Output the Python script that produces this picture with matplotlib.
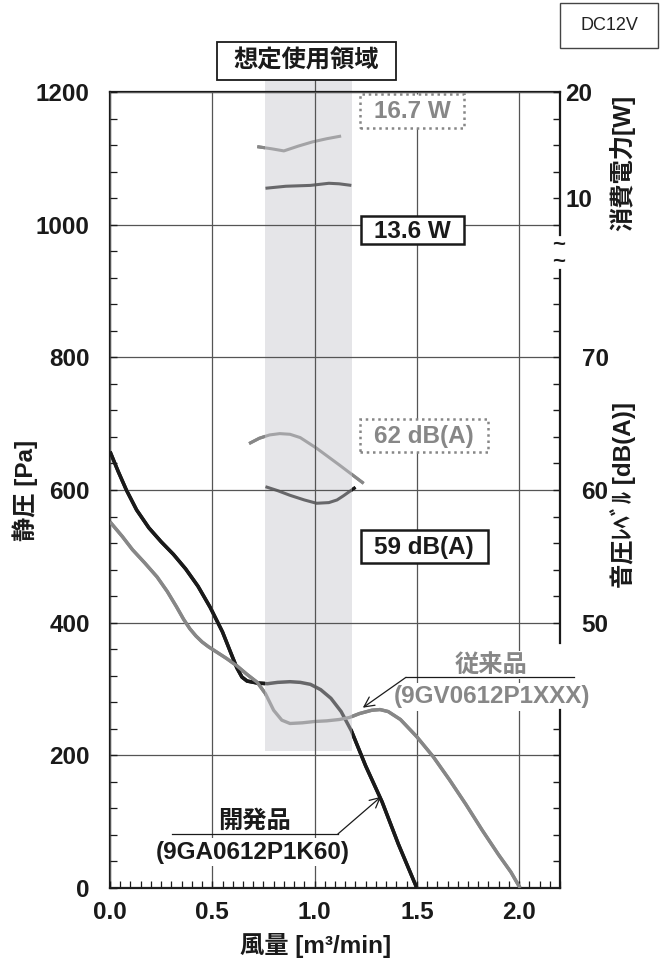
import numpy as np
import matplotlib
matplotlib.use("Agg")
import matplotlib.pyplot as plt
from matplotlib.patches import Rectangle
from matplotlib.path import Path

plt.rcParams['font.family'] = ['Liberation Sans', 'Noto Sans CJK JP']
plt.rcParams['font.weight'] = 'bold'

# ---------------- data ----------------
# P-Q curve, new product (開発品 9GA0612P1K60)
new_flow = [0.00, 0.04, 0.08, 0.13, 0.19, 0.25, 0.31, 0.37, 0.43, 0.49, 0.55, 0.59,
            0.62, 0.645, 0.67, 0.72, 0.77, 0.82, 0.88, 0.93, 0.98, 1.03, 1.08,
            1.13, 1.18, 1.25, 1.33, 1.41, 1.50]
new_pa = [658, 628, 600, 570, 543, 522, 503, 481, 455, 423, 386, 355,
          332, 318, 312, 309, 308, 310, 311, 310, 307, 299, 286,
          266, 237, 184, 130, 66, 0]

# P-Q curve, conventional product (従来品 9GV0612P1XXX)
old_flow = [0.00, 0.06, 0.11, 0.17, 0.23, 0.28, 0.325, 0.36, 0.39, 0.42, 0.45, 0.48,
            0.52, 0.57, 0.62, 0.67, 0.72, 0.76, 0.80, 0.84, 0.88, 0.94, 1.00,
            1.06, 1.12, 1.17, 1.22, 1.28, 1.32, 1.36, 1.42, 1.50, 1.58, 1.66,
            1.74, 1.82, 1.90, 1.96, 2.005]
old_pa = [552, 530, 510, 490, 469, 447, 424, 405, 391, 380, 371, 364,
          356, 346, 335, 322, 310, 293, 268, 253, 248, 249, 251,
          252, 254, 257, 263, 268, 269, 266, 254, 228, 198, 163,
          126, 87, 50, 24, 0]

# power consumption [W]
old_pw_flow = [0.72, 0.79, 0.85, 0.92, 0.99, 1.06, 1.13]
old_pw = [14.85, 14.65, 14.45, 14.9, 15.3, 15.6, 15.85]
new_pw_flow = [0.76, 0.86, 0.98, 1.07, 1.12, 1.18]
new_pw = [10.93, 11.12, 11.2, 11.4, 11.35, 11.2]

# sound pressure level [dB(A)]
old_db_flow = [0.68, 0.73, 0.78, 0.83, 0.88, 0.93, 1.01, 1.12, 1.24]
old_db = [63.5, 63.9, 64.15, 64.25, 64.2, 63.95, 63.15, 61.9, 60.5]
new_db_flow = [0.76, 0.82, 0.88, 0.95, 1.01, 1.07, 1.11, 1.14, 1.20]
new_db = [60.25, 59.95, 59.6, 59.25, 59.0, 59.05, 59.25, 59.55, 60.2]

# operating region (想定使用領域)
region_flow = (0.756, 1.185)
region_pa = (207, 1218)

x_ticks = [0.0, 0.5, 1.0, 1.5, 2.0]
x_labels = ['0.0', '0.5', '1.0', '1.5', '2.0']
y_ticks = [0, 200, 400, 600, 800, 1000, 1200]
y_labels = ['0', '200', '400', '600', '800', '1000', '1200']
pw_ticks = [7.5, 10, 12.5, 15, 17.5, 20]
pw_labels = ['', '10', '', '', '', '20']
db_ticks = list(range(50, 77, 2))
db_labels = [str(v) if v % 10 == 0 else '' for v in db_ticks]
pa_low_ticks = [40, 80, 120, 160, 200, 240]

# ---------------- figure ----------------
FW, FH = 664, 963
fig = plt.figure(figsize=(FW / 100, FH / 100), dpi=100)
fig.patch.set_facecolor('white')


def fx(px):
    return px / FW


def fy(py):
    return 1 - py / FH


BLACK = '#1a1a1a'
GRAY = '#878787'
GRID = '#555555'
FS = 17.5

ax = fig.add_axes([fx(110), fy(888), (560 - 110) / FW, (888 - 92) / FH])
ax.set_xlim(0, 2.2)
ax.set_ylim(0, 1200)
ax.set_axisbelow(False)

ax_w = ax.twinx()
ax_w.set_ylim(-55, 20)
ax_db = ax.twinx()
ax_db.set_ylim(30, 90)
ax_pa = ax.twinx()
ax_pa.set_ylim(0, 1200)

# spines
for s in ['left', 'bottom', 'top']:
    ax.spines[s].set_linewidth(1.6)
    ax.spines[s].set_color(BLACK)
ax.spines['right'].set_visible(False)
for a, bounds in [(ax_w, (6.5, 20)), (ax_db, (48.45, 76.6)), (ax_pa, (0, 268))]:
    for s in ['left', 'bottom', 'top']:
        a.spines[s].set_visible(False)
    a.spines['right'].set_linewidth(1.6)
    a.spines['right'].set_color(BLACK)
    a.spines['right'].set_bounds(*bounds)

# ticks
ax.set_xticks(x_ticks, x_labels)
ax.set_yticks(y_ticks, y_labels)
ax.set_xticks(np.arange(0, 2.2001, 0.05), minor=True)
ax.set_yticks(np.arange(0, 1200.1, 40), minor=True)
ax.tick_params(axis='both', which='both', direction='in', color=BLACK,
               top=False, right=False, labelsize=FS)
ax.tick_params(axis='both', which='major', length=5, width=1)
ax.tick_params(axis='both', which='minor', length=5, width=0.9)
ax.tick_params(axis='x', which='major', pad=9)
ax.tick_params(axis='y', which='major', pad=14.5)
for lab in ax.get_xticklabels() + ax.get_yticklabels():
    lab.set_fontweight('bold')
    lab.set_color(BLACK)

ax_w.set_yticks(pw_ticks, pw_labels)
ax_w.tick_params(axis='y', direction='in', length=5, width=1, pad=4,
                 labelsize=FS, color=BLACK)
ax_db.set_yticks(db_ticks, db_labels)
ax_db.tick_params(axis='y', direction='in', length=5, width=1, pad=15.5,
                  labelsize=FS, color=BLACK)
ax_pa.set_yticks(pa_low_ticks, [''] * len(pa_low_ticks))
ax_pa.tick_params(axis='y', direction='in', length=5, width=1, color=BLACK)
for a in (ax_w, ax_db):
    for lab in a.get_yticklabels():
        lab.set_fontweight('bold')
        lab.set_color(BLACK)

ax.grid(True, which='major', color=GRID, linewidth=0.9)
# 1.0 grid line continues up through the shaded band to the title box
ax.plot([1.0, 1.0], [1200, region_pa[1]], color=GRID, lw=0.9, zorder=2.5,
        clip_on=False)

# ---------------- curves ----------------
curves = [
    (new_flow, new_pa, ax.transData, BLACK, 2.5),
    (old_flow, old_pa, ax.transData, GRAY, 2.4),
    (old_pw_flow, old_pw, ax_w.transData, GRAY, 2.2),
    (new_pw_flow, new_pw, ax_w.transData, BLACK, 2.2),
    (old_db_flow, old_db, ax_db.transData, GRAY, 2.2),
    (new_db_flow, new_db, ax_db.transData, BLACK, 2.2),
]

x0, x1 = region_flow
y0, y1 = region_pa
clip_rects = [
    [(-1, -200), (x0, -200), (x0, 1400), (-1, 1400)],
    [(x1, -200), (3, -200), (3, 1400), (x1, 1400)],
    [(x0, -200), (x1, -200), (x1, y0), (x0, y0)],
]
codes = [Path.MOVETO, Path.LINETO, Path.LINETO, Path.LINETO, Path.CLOSEPOLY]
clip_path = Path.make_compound_path(*[Path(r + [r[0]], codes) for r in clip_rects])

for fl, vals, trans, col, lw in curves:
    ax.plot(fl, vals, color=col, lw=lw, transform=trans, zorder=2,
            solid_capstyle='butt', solid_joinstyle='round')
    ln, = ax.plot(fl, vals, color=col, lw=lw, transform=trans, zorder=3,
                  solid_capstyle='butt', solid_joinstyle='round')
    ln.set_clip_path(clip_path, ax.transData)

ax.set_xlim(0, 2.2)
ax.set_ylim(0, 1200)

# shaded operating region (semi-transparent overlay)
shade = Rectangle((x0, y0), x1 - x0, y1 - y0, facecolor=(0.78, 0.78, 0.80),
                  alpha=0.45, lw=0, zorder=2.1, clip_on=False)
ax.add_patch(shade)

# ---------------- annotations ----------------
txt_kw = dict(fontsize=FS, fontweight='bold', ha='center', va='center', zorder=4)
wbox = dict(facecolor='white', edgecolor='none', pad=2)

ax.text(0.707, 100, '開発品', color=BLACK, bbox=wbox, **txt_kw)
ax.text(0.698, 54, '(9GA0612P1K60)', color=BLACK, bbox=wbox, **txt_kw)
ax.plot([0.301, 1.114], [81.4, 81.4], color=BLACK, lw=0.9, zorder=5)
ax.annotate('', xy=(1.325, 137.6), xytext=(1.114, 81.4),
            arrowprops=dict(arrowstyle='->', color=BLACK, lw=0.9,
                            mutation_scale=18, shrinkA=0, shrinkB=0),
            zorder=5)

ax.text(1.862, 336, '従来品', color=GRAY, bbox=wbox, clip_on=False, **txt_kw)
ax.text(1.868, 288, '(9GV0612P1XXX)', color=GRAY, bbox=wbox, clip_on=False, **txt_kw)
ax.plot([1.447, 2.268], [317.6, 317.6], color=BLACK, lw=0.9, zorder=5, clip_on=False)
ax.annotate('', xy=(1.236, 271.8), xytext=(1.447, 317.6),
            arrowprops=dict(arrowstyle='->', color=BLACK, lw=0.9,
                            mutation_scale=18, shrinkA=0, shrinkB=0),
            zorder=5)


def fig_box(xa, ya, xb, yb, ec, lw, ls='-', fc='white'):
    r = Rectangle((fx(xa), fy(yb)), (xb - xa) / FW, (yb - ya) / FH,
                  transform=fig.transFigure, facecolor=fc, edgecolor=ec,
                  lw=lw, linestyle=ls, zorder=5)
    fig.add_artist(r)


def fig_text(x, y, s, **kw):
    fig.text(fx(x), fy(y), s, ha='center', va='center', zorder=6, **kw)


# value boxes
fig_box(360, 94, 464, 128, GRAY, 1.8, ls=(0, (1, 1.5)))
fig_text(412, 112, '16.7 W', fontsize=FS, fontweight='bold', color=GRAY)
fig_box(361, 216, 464, 244, BLACK, 1.8)
fig_text(412, 231, '13.6 W', fontsize=FS, fontweight='bold', color=BLACK)
fig_box(360, 419, 488, 452, GRAY, 1.8, ls=(0, (1, 1.5)))
fig_text(424, 436, '62 dB(A)', fontsize=FS, fontweight='bold', color=GRAY)
fig_box(361, 530, 488, 563, BLACK, 1.8)
fig_text(424, 547, '59 dB(A)', fontsize=FS, fontweight='bold', color=BLACK)

# region title
fig_box(217, 42, 396, 80, BLACK, 1.3)
fig_text(306, 61, '想定使用領域', fontsize=FS, fontweight='bold', color=BLACK)

# DC12V
fig_box(560, 3, 658, 48, '#444444', 1.0)
fig_text(609, 26, 'DC12V', fontsize=13, fontweight='normal', color='#222222')

# axis break marks
fig_text(559, 254, '~\n~', fontsize=16, fontweight='bold', color=BLACK,
         linespacing=0.72)

# axis labels
fig_text(25, 490, '静圧 [Pa]', fontsize=FS, fontweight='bold', color=BLACK, rotation=90)
fig_text(316, 945, '風量 [m³/min]', fontsize=FS, fontweight='bold', color=BLACK)
fig_text(622, 163, '消費電力[W]', fontsize=FS, fontweight='bold', color=BLACK, rotation=90)
fig_text(623, 495, '音圧ﾚﾍﾞﾙ [dB(A)]', fontsize=FS, fontweight='bold', color=BLACK, rotation=90)

fig.savefig('out.png', dpi=100, facecolor='white')
